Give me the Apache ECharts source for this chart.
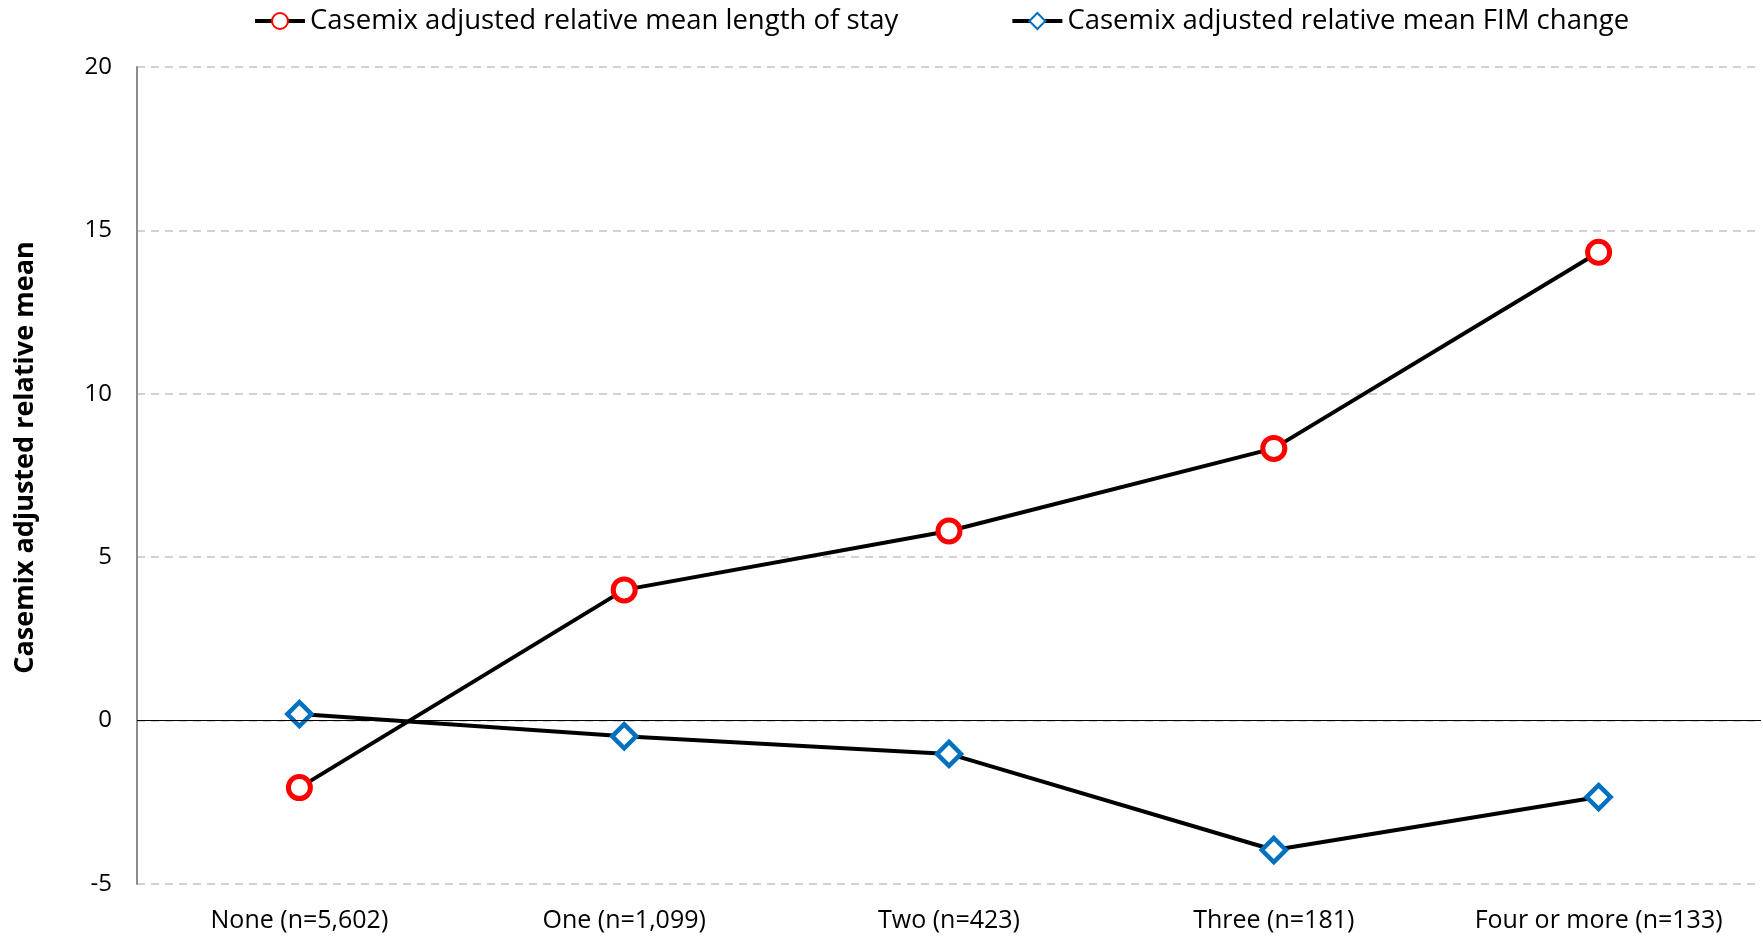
<!DOCTYPE html>
<html>
<head>
<meta charset="utf-8">
<script src="https://cdn.jsdelivr.net/npm/echarts@6/dist/echarts.min.js"></script>
<style>
  html, body { margin: 0; padding: 0; background: #ffffff; }
  #chart { width: 1763px; height: 937px; }
</style>
</head>
<body>
<div id="chart"></div>
<script>
// Number of comorbidities, with group size
const categories = ['None (n=5,602)', 'One (n=1,099)', 'Two (n=423)', 'Three (n=181)', 'Four or more (n=133)'];
// Casemix adjusted relative mean length of stay
const losValues = [-2.05, 4.0, 5.8, 8.33, 14.33];
// Casemix adjusted relative mean FIM change
const fimValues = [0.2, -0.48, -1.02, -3.96, -2.34];
const seriesNames = ['Casemix adjusted relative mean length of stay', 'Casemix adjusted relative mean FIM change'];
const yTicks = { min: -5, max: 20, interval: 5 };

const FONT = '"Open Sans", Lato, sans-serif';
const chart = echarts.init(document.getElementById('chart'));

chart.setOption({
  backgroundColor: '#ffffff',
  animation: false,
  textStyle: { fontFamily: FONT, color: '#000' },
  legend: {
    top: 2,
    left: 248,
    itemGap: 112,
    itemWidth: 50,
    itemHeight: 20,
    lineStyle: { width: 4, color: '#000' },
    textStyle: { fontFamily: FONT, fontSize: 27.5, color: '#000' },
    data: seriesNames
  },
  grid: { left: 137, right: 2, top: 67, bottom: 53, containLabel: false },
  xAxis: {
    type: 'category',
    data: categories,
    boundaryGap: true,
    axisLine: { show: false },
    axisTick: { show: false },
    axisLabel: { interval: 0, hideOverlap: false, fontFamily: FONT, fontSize: 25, color: '#000', margin: 24 }
  },
  yAxis: {
    type: 'value',
    min: yTicks.min,
    max: yTicks.max,
    interval: yTicks.interval,
    name: 'Casemix adjusted relative mean',
    nameLocation: 'middle',
    nameGap: 98,
    nameTextStyle: { fontFamily: FONT, fontSize: 27, fontWeight: 'bold', color: '#000', padding: [0, 0, 0, 36] },
    axisLine: { show: true, lineStyle: { color: '#8c8c8c', width: 2 } },
    axisTick: { show: false },
    axisLabel: { fontFamily: FONT, fontSize: 24, color: '#000', margin: 25 },
    splitLine: { show: true, lineStyle: { color: '#c3c3c3', width: 1.5, type: [8, 6] } }
  },
  series: [
    {
      name: seriesNames[0],
      type: 'line',
      data: losValues,
      symbol: 'circle',
      symbolSize: 22,
      z: 3,
      lineStyle: { color: '#000', width: 4 },
      itemStyle: { color: '#ffffff', borderColor: '#ff0000', borderWidth: 5 },
      markLine: {
        silent: true,
        symbol: ['none', 'none'],
        label: { show: false },
        lineStyle: { color: '#000', width: 1.2, type: 'solid' },
        data: [{ yAxis: 0 }]
      }
    },
    {
      name: seriesNames[1],
      type: 'line',
      data: fimValues,
      symbol: 'diamond',
      symbolSize: 24,
      z: 3,
      lineStyle: { color: '#000', width: 4 },
      itemStyle: { color: '#ffffff', borderColor: '#0070c0', borderWidth: 4.5 }
    }
  ]
});
</script>
</body>
</html>
